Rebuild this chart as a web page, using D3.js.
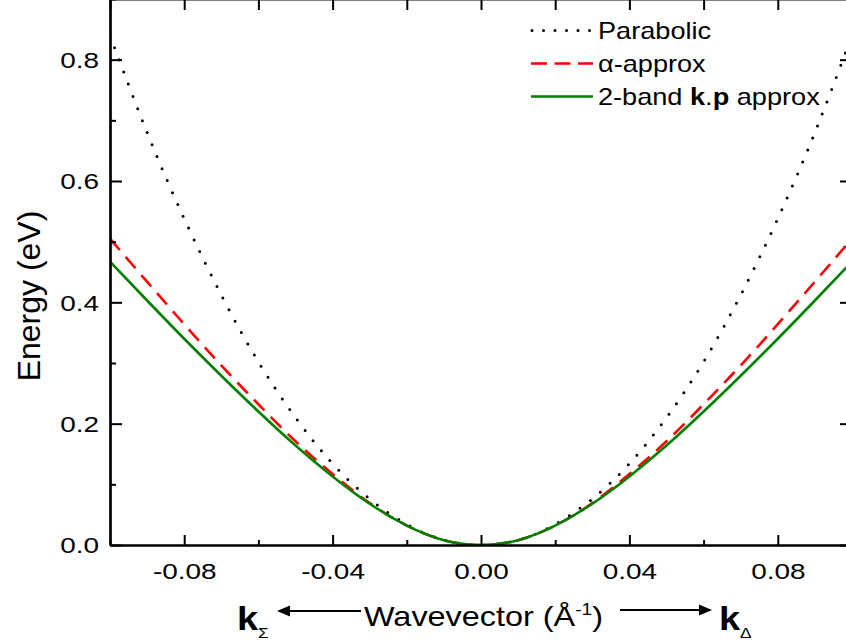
<!DOCTYPE html>
<html>
<head>
<meta charset="utf-8">
<script src="https://cdn.jsdelivr.net/npm/d3@7"></script>
<style>
  body { margin: 0; background: white; }
  text { font-family: "Liberation Sans", Arial, sans-serif; fill: black; }
</style>
</head>
<body>
<script>
// values (energies in eV at each wavevector in 1/Angstrom)
const kValues = [-0.10, -0.09, -0.08, -0.07, -0.06, -0.05, -0.04, -0.03, -0.02, -0.01, 0.00,
                 0.01, 0.02, 0.03, 0.04, 0.05, 0.06, 0.07, 0.08, 0.09, 0.10];
const parabolic = [0.840, 0.680, 0.538, 0.412, 0.302, 0.210, 0.134, 0.076, 0.034, 0.008, 0.000,
                   0.008, 0.034, 0.076, 0.134, 0.210, 0.302, 0.412, 0.538, 0.680, 0.840];
const alphaApprox = [0.505, 0.434, 0.364, 0.296, 0.232, 0.171, 0.117, 0.069, 0.032, 0.008, 0.000,
                     0.008, 0.032, 0.069, 0.117, 0.171, 0.232, 0.296, 0.364, 0.434, 0.505];
const kpApprox = [0.467, 0.403, 0.340, 0.279, 0.220, 0.164, 0.113, 0.068, 0.032, 0.008, 0.000,
                  0.008, 0.032, 0.068, 0.113, 0.164, 0.220, 0.279, 0.340, 0.403, 0.467];

const xMajor = [-0.08, -0.04, 0.00, 0.04, 0.08];
const xMinor = [-0.10, -0.06, -0.02, 0.02, 0.06, 0.10];
const yMajor = [0.0, 0.2, 0.4, 0.6, 0.8];
const yMinor = [0.1, 0.3, 0.5, 0.7, 0.9];

function createChart() {
    let svg = d3.select("body").append("svg")
        .attr("width", 846)
        .attr("height", 643);

    let x = d3.scaleLinear().domain([-0.1, 0.1]).range([110, 852]);
    let y = d3.scaleLinear().domain([0, 0.9]).range([545, -1]);

    svg.append("clipPath").attr("id", "plotArea")
        .append("rect").attr("x", 110).attr("y", -1).attr("width", 742).attr("height", 546);

    // curves
    let series = [
        { values: parabolic, color: "black", width: 3, dash: "0,13", cap: "round" },
        { values: alphaApprox, color: "#ff0000", width: 2.6, dash: "15,9", cap: "butt" },
        { values: kpApprox, color: "#008000", width: 2.6, dash: null, cap: "butt" }
    ];
    let line = d3.line().x((d, i) => x(kValues[i])).y(d => y(d)).curve(d3.curveNatural);

    svg.append("g").attr("clip-path", "url(#plotArea)")
        .selectAll("path")
        .data(series)
        .enter()
        .append("path")
        .attr("d", d => line(d.values))
        .attr("fill", "none")
        .attr("stroke", d => d.color)
        .attr("stroke-width", d => d.width)
        .attr("stroke-dasharray", d => d.dash)
        .attr("stroke-linecap", d => d.cap);

    // axes, ticks inside the frame
    let bottom = svg.append("g").attr("transform", "translate(0,545)")
        .call(d3.axisBottom(x).tickValues(xMajor).tickSizeInner(-10).tickSizeOuter(0)
            .tickFormat(d => d.toFixed(2)));
    bottom.append("g")
        .call(d3.axisBottom(x).tickValues(xMinor).tickSizeInner(-5).tickSizeOuter(0).tickFormat(""));
    bottom.selectAll("text")
        .attr("y", 0).attr("dy", 0)
        .attr("transform", "translate(0,34) scale(1.27,1)")
        .style("font-size", "22px");

    let left = svg.append("g").attr("transform", "translate(110,0)")
        .call(d3.axisLeft(y).tickValues(yMajor).tickSizeInner(-12).tickSizeOuter(0)
            .tickFormat(d => d.toFixed(1)));
    left.append("g")
        .call(d3.axisLeft(y).tickValues(yMinor).tickSizeInner(-6).tickSizeOuter(0).tickFormat(""));
    left.selectAll("text")
        .attr("x", 0).attr("dy", "0.36em")
        .attr("transform", "translate(-11,0) scale(1.27,1)")
        .style("font-size", "22px");

    svg.append("g").attr("transform", "translate(0,-1)")
        .call(d3.axisTop(x).tickValues(xMajor.concat(xMinor)).tickSizeInner(-11).tickSizeOuter(0).tickFormat(""));
    let right = svg.append("g").attr("transform", "translate(852,0)");
    right.call(d3.axisRight(y).tickValues(yMajor).tickSizeInner(-12).tickSizeOuter(0).tickFormat(""));
    right.append("g")
        .call(d3.axisRight(y).tickValues(yMinor).tickSizeInner(-6).tickSizeOuter(0).tickFormat(""));

    svg.selectAll(".domain").attr("stroke-width", 2.2);
    svg.selectAll(".tick line").attr("stroke-width", 2);

    // legend
    let legendNames = ["Parabolic", "\u03b1-approx", "2-band"];
    let legend = svg.append("g");
    series.forEach((s, i) => {
        let ly = 30.5 + i * 33;
        legend.append("line")
            .attr("x1", s.dash === "0,13" ? 532 : 531).attr("x2", 593)
            .attr("y1", ly).attr("y2", ly)
            .attr("stroke", s.color)
            .attr("stroke-width", s.width)
            .attr("stroke-dasharray", s.dash === "0,13" ? "0,11.5" : (s.dash ? "16,7.5" : null))
            .attr("stroke-linecap", s.cap);
        let t = legend.append("text")
            .attr("transform", `translate(598,${ly + 8}) scale(1.18,1)`)
            .style("font-size", "23px")
            .text(legendNames[i]);
        if (i === 2) {
            t.append("tspan").text(" ");
            t.append("tspan").style("font-weight", "bold").text("k");
            t.append("tspan").text(".");
            t.append("tspan").style("font-weight", "bold").text("p");
            t.append("tspan").text(" approx");
        }
    });

    // y title
    svg.append("text")
        .attr("transform", "translate(40,296) rotate(-90)")
        .attr("text-anchor", "middle")
        .style("font-size", "32px")
        .text("Energy (eV)");

    // x title with arrows
    let xt = svg.append("text")
        .attr("transform", "translate(364,626) scale(1.2,1)")
        .style("font-size", "27px")
        .text("Wavevector (\u00c5");
    xt.append("tspan").attr("dy", -11).style("font-size", "16px").text("-1");
    xt.append("tspan").attr("dy", 11).text(")");

    let kSigma = svg.append("text")
        .attr("transform", "translate(237,630) scale(1.15,1)")
        .style("font-size", "33px").style("font-weight", "bold").text("k");
    kSigma.append("tspan").attr("dy", 8).style("font-size", "15px").style("font-weight", "normal").text("\u03a3");

    let kDelta = svg.append("text")
        .attr("transform", "translate(719,630) scale(1.15,1)")
        .style("font-size", "33px").style("font-weight", "bold").text("k");
    kDelta.append("tspan").attr("dy", 8).style("font-size", "15px").style("font-weight", "normal").text("\u0394");

    let arrows = [{ from: 361, to: 277, yy: 611 }, { from: 620, to: 712, yy: 610 }];
    arrows.forEach(a => {
        let dir = Math.sign(a.to - a.from);
        svg.append("line")
            .attr("x1", a.from).attr("x2", a.to - dir * 10)
            .attr("y1", a.yy).attr("y2", a.yy)
            .attr("stroke", "black").attr("stroke-width", 2);
        svg.append("path")
            .attr("d", `M${a.to},${a.yy} L${a.to - dir * 13},${a.yy - 5.5} L${a.to - dir * 13},${a.yy + 5.5} Z`)
            .attr("fill", "black");
    });
}

document.addEventListener("DOMContentLoaded", createChart);
</script>
</body>
</html>
